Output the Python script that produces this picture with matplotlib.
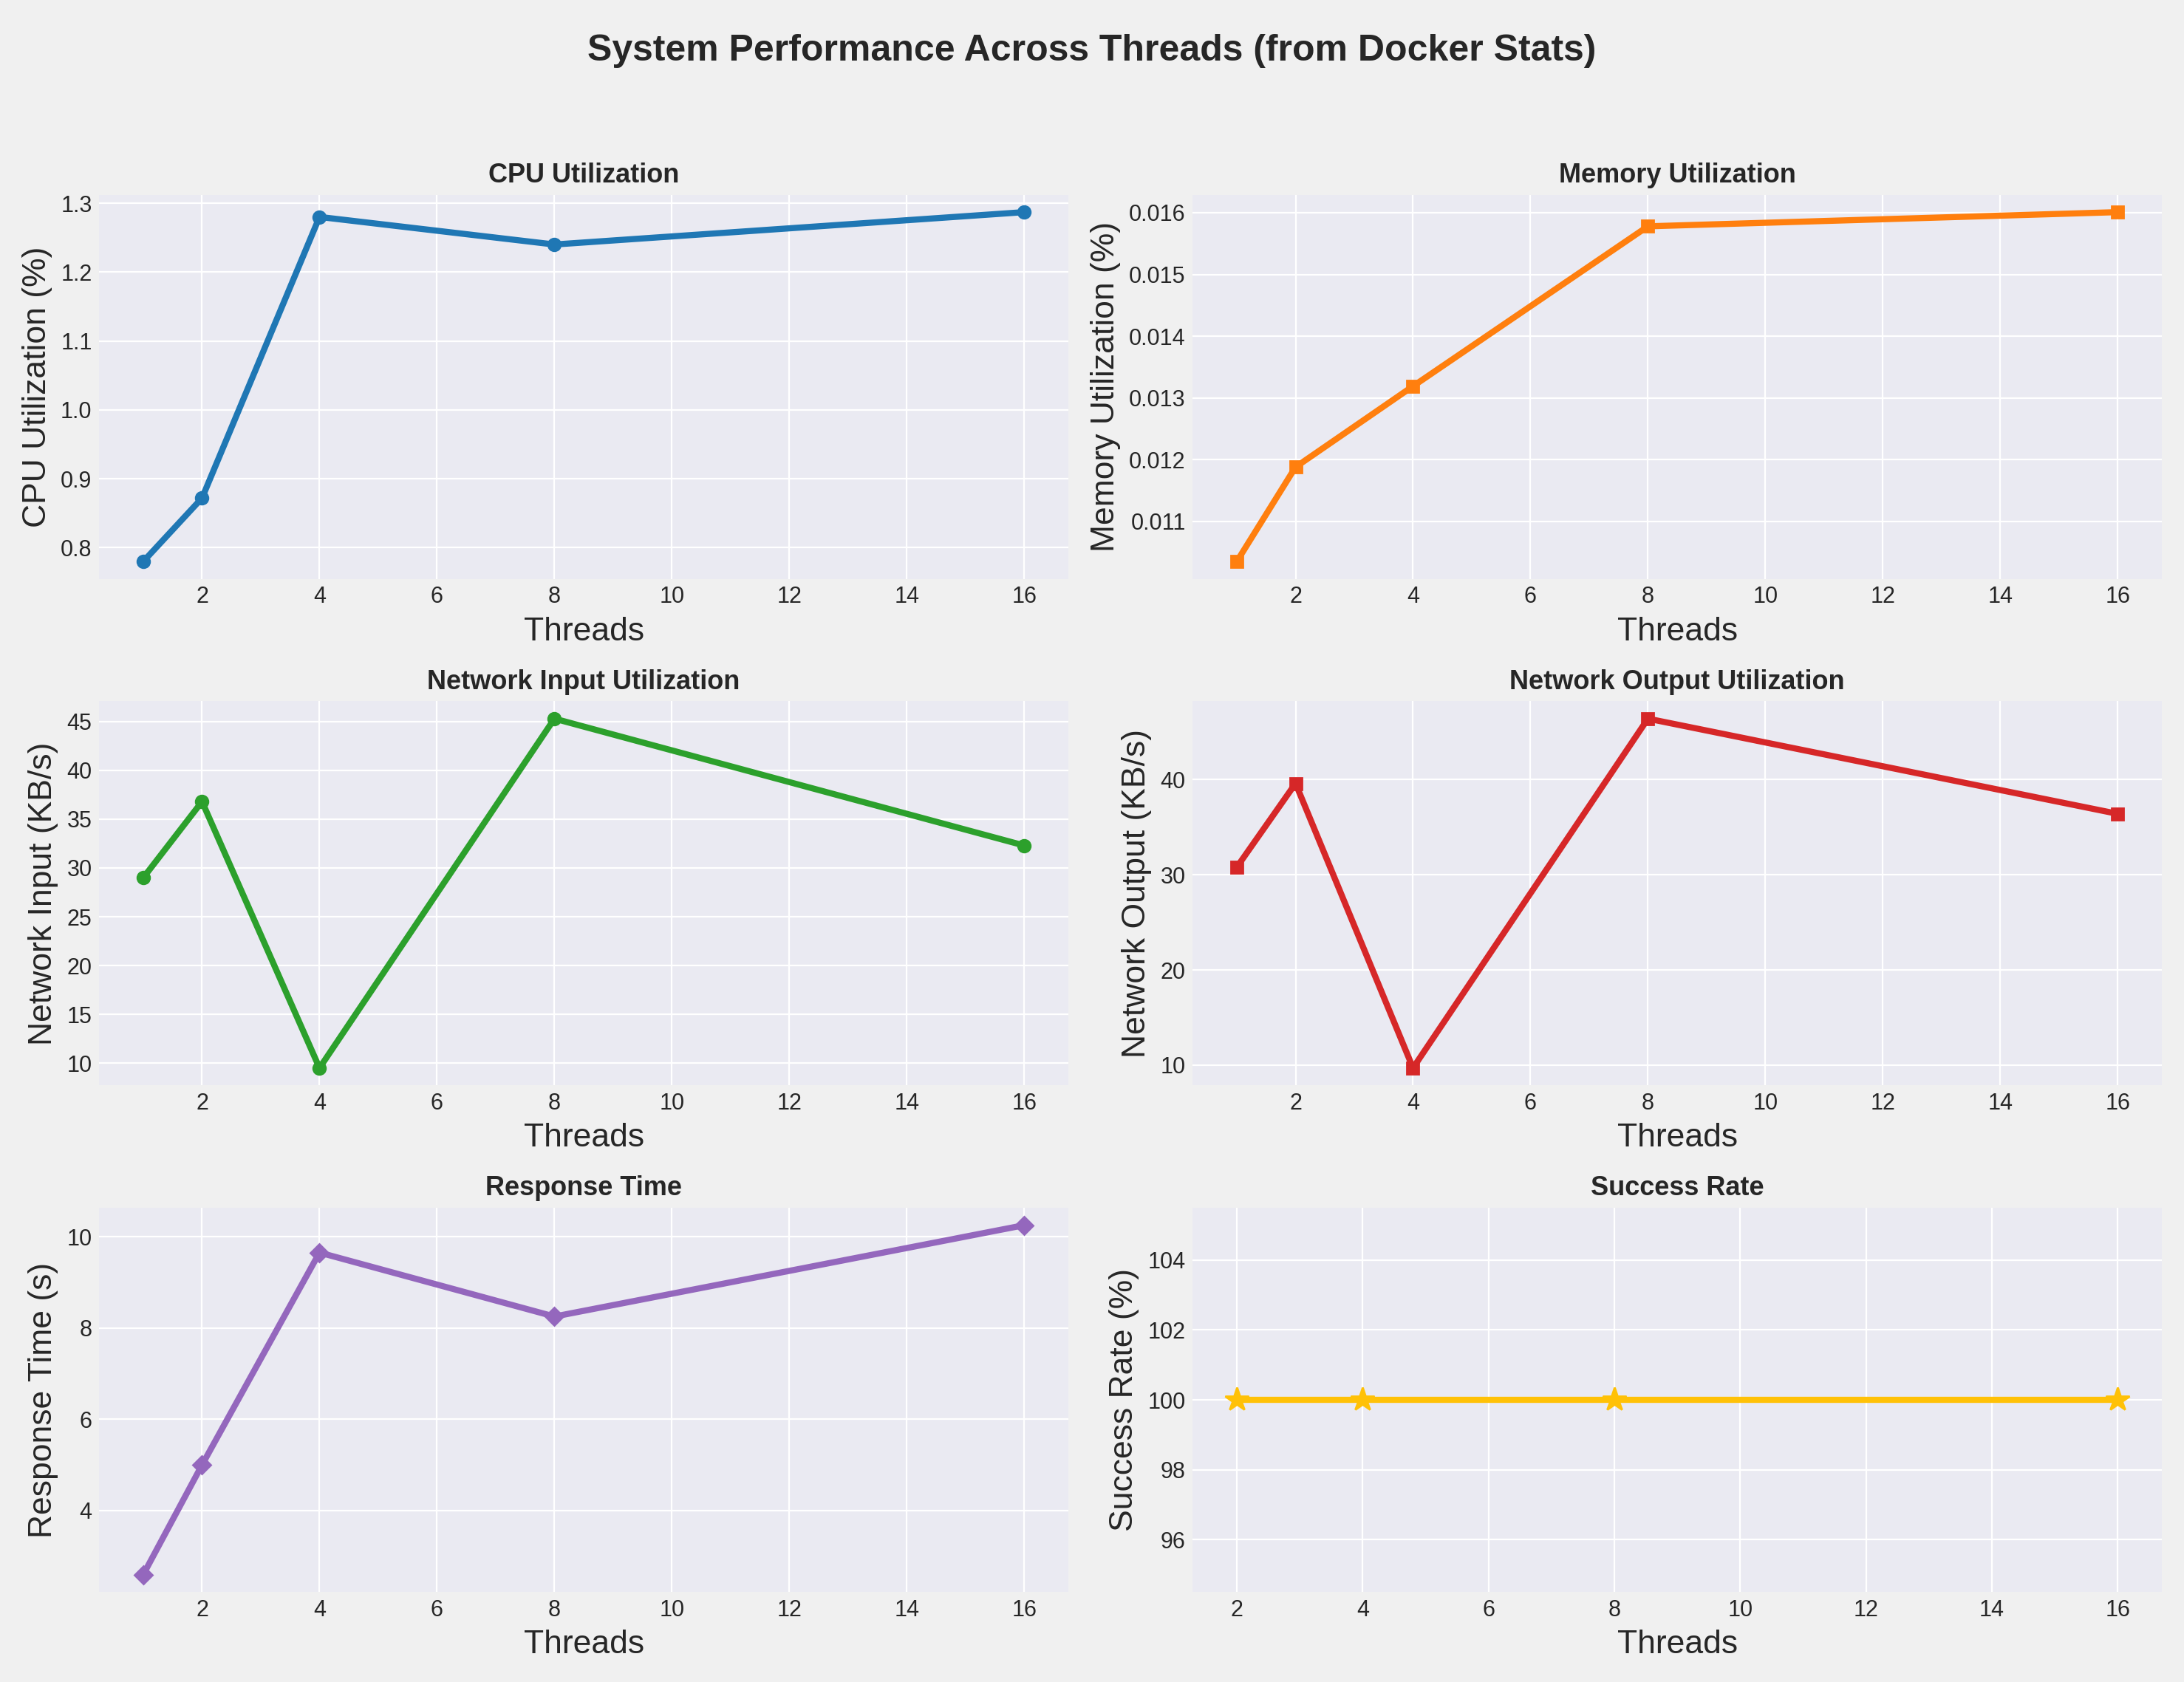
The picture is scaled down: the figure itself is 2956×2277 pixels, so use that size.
import matplotlib
matplotlib.use("Agg")
import matplotlib.pyplot as plt

plt.style.use('seaborn-v0_8-darkgrid')
plt.rcParams['font.family'] = ['Liberation Sans', 'DejaVu Sans']

threads = [1, 2, 4, 8, 16]
cpu = [0.78, 0.872, 1.28, 1.24, 1.287]
mem = [0.01035, 0.01188, 0.01319, 0.01578, 0.01601]
net_in = [29.0, 36.8, 9.5, 45.3, 32.3]
net_out = [30.8, 39.6, 9.7, 46.4, 36.4]
resp = [2.6, 5.0, 9.65, 8.25, 10.25]
succ_threads = [2, 4, 8, 16]
succ = [100, 100, 100, 100]

fig, axes = plt.subplots(3, 2, figsize=(14.78, 11.385), dpi=200)
fig.patch.set_facecolor('#f0f0f0')
panels = [
    (threads, cpu, 'CPU Utilization', 'CPU Utilization (%)', '#1f77b4', 'o'),
    (threads, mem, 'Memory Utilization', 'Memory Utilization (%)', '#ff7f0e', 's'),
    (threads, net_in, 'Network Input Utilization', 'Network Input (KB/s)', '#2ca02c', 'o'),
    (threads, net_out, 'Network Output Utilization', 'Network Output (KB/s)', '#d62728', 's'),
    (threads, resp, 'Response Time', 'Response Time (s)', '#9467bd', 'D'),
    (succ_threads, succ, 'Success Rate', 'Success Rate (%)', '#FFC107', '*'),
]
for ax, (x, y, t, yl, c, m) in zip(axes.flat, panels):
    ms = 12 if m == '*' else 6
    ax.plot(x, y, color=c, marker=m, linewidth=3, markersize=ms)
    ax.set_title(t, fontsize=13, fontweight='bold')
    ax.set_xlabel('Threads', fontsize=16)
    ax.set_ylabel(yl, fontsize=16)
    ax.tick_params(labelsize=11)
fig.suptitle('System Performance Across Threads (from Docker Stats)', fontsize=18, fontweight='bold')
fig.tight_layout(rect=[0, 0, 1, 0.95])
fig.savefig('out.png', facecolor=fig.get_facecolor())
